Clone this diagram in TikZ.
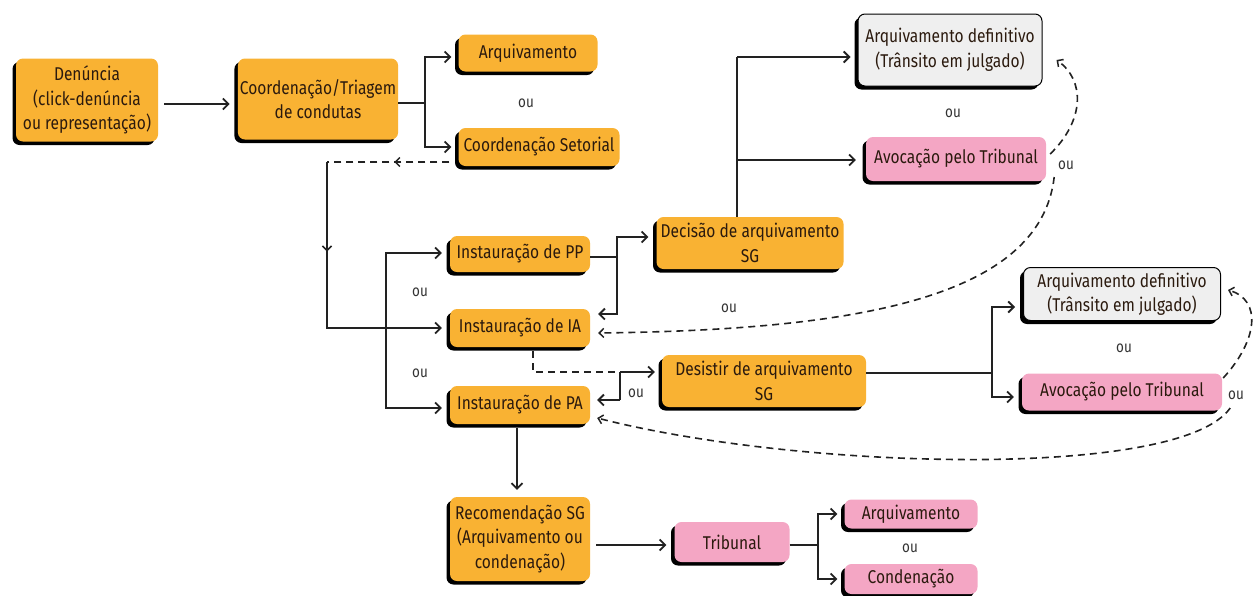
\documentclass[tikz,border=0pt]{standalone}
\usepackage{fontspec}
\setmainfont{Fira Sans}[FakeStretch=0.84]
\usetikzlibrary{arrows.meta,shadows,calc,decorations.markings}
\definecolor{orng}{HTML}{F9B233}
\definecolor{pnk}{HTML}{F4A6C4}
\definecolor{gry}{HTML}{EFEFEF}
\definecolor{txtc}{HTML}{2B1A0E}
\definecolor{lnc}{HTML}{222222}
\begin{document}
\begin{tikzpicture}[x=1pt,y=-1pt,
  box/.style={rounded corners=7pt, align=center, text=txtc, inner sep=2pt,
    font=\fontsize{18.5}{24.5}\selectfont,
    drop shadow={shadow xshift=-3.5pt, shadow yshift=-3.5pt, fill=black, opacity=1}},
  ob/.style={box, fill=orng},
  pb/.style={box, fill=pnk},
  gb/.style={box, fill=gry, draw=black, line width=1pt},
  oulbl/.style={font=\fontsize{16}{18}\selectfont, text=black!80},
  tip/.tip={Straight Barb[length=5.5pt,width=11pt,line width=1.8pt]},
  smalltip/.tip={Straight Barb[length=4.5pt,width=9pt,line width=1.5pt]},
  ln/.style={line width=1.8pt, draw=lnc},
  arr/.style={ln, -tip, shorten >=5pt},
  dsh/.style={line width=1.6pt, draw=lnc, dash pattern=on 7pt off 5pt},
  darr/.style={dsh, -smalltip},
  midarrow/.style={postaction={decorate}, decoration={markings,
    mark=at position #1 with {\arrow{smalltip}}}}
]
\useasboundingbox (0,0) rectangle (1256,595);

% nodes
\node[ob, minimum width=142pt, minimum height=83pt] (den) at (87,100) {Denúncia\\(click-denúncia\\ou representação)};
\node[ob, minimum width=157pt, minimum height=81pt] (tri) at (318,99) {Coordenação/Triagem\\de condutas};
\node[ob, minimum width=139pt, minimum height=37pt] (arq1) at (528,53) {Arquivamento};
\node[ob, minimum width=161pt, minimum height=38pt] (cs) at (539,147) {Coordenação Setorial};
\node[gb, minimum width=184pt, minimum height=72pt] (ad1) at (950,50) {Arquivamento definitivo\\(Trânsito em julgado)};
\node[pb, minimum width=180pt, minimum height=44pt] (av1) at (956,159) {Avocação pelo Tribunal};
\node[ob, minimum width=187pt, minimum height=52pt] (dec) at (750,243) {Decisão de arquivamento\\SG};
\node[ob, minimum width=140pt, minimum height=36pt] (pp) at (520,254) {Instauração de PP};
\node[ob, minimum width=140pt, minimum height=38pt] (ia) at (520,328) {Instauração de IA};
\node[ob, minimum width=140pt, minimum height=38pt] (pa) at (520,405) {Instauração de PA};
\node[ob, minimum width=204pt, minimum height=52pt] (des) at (764,381) {Desistir de arquivamento\\SG};
\node[gb, minimum width=197pt, minimum height=53pt] (ad2) at (1122,294) {Arquivamento definitivo\\(Trânsito em julgado)};
\node[pb, minimum width=200pt, minimum height=37pt] (av2) at (1122,392) {Avocação pelo Tribunal};
\node[ob, minimum width=140pt, minimum height=84pt] (rec) at (520,539) {Recomendação SG\\(Arquivamento ou\\condenação)};
\node[pb, minimum width=115pt, minimum height=40pt] (trib) at (732,542) {Tribunal};
\node[pb, minimum width=133pt, minimum height=29pt] (arq2) at (911,514) {Arquivamento};
\node[pb, minimum width=133pt, minimum height=30pt] (cond) at (911,579) {Condenação};

% "ou" labels
\node[oulbl] (ou1) at (526,103) {ou};
\node[oulbl] (ou2) at (953,113) {ou};
\node[oulbl] (ou3) at (1066,165) {ou};
\node[oulbl] (ou4) at (420,292) {ou};
\node[oulbl] (ou5) at (420,373) {ou};
\node[oulbl] (ou6) at (729,308) {ou};
\node[oulbl] (ou7) at (636,393) {ou};
\node[oulbl] (ou8) at (1124,348) {ou};
\node[oulbl] (ou9) at (1236,395) {ou};
\node[oulbl] (ou10) at (910,548) {ou};

% fork coordinates
\coordinate (f1) at (425,103);
\coordinate (c1) at (327,162);
\coordinate (f2) at (386,328);
\coordinate (f3) at (617,257);
\coordinate (f4) at (737,57);
\coordinate (f5) at (620,372);
\coordinate (f6) at (620,400);
\coordinate (f7) at (992,373);
\coordinate (f8) at (818,545);

% Denuncia -> Triagem
\draw[arr, shorten <=6pt, shorten >=8pt] ($(den.east)+(0,4)$) -- ($(tri.west)+(0,5)$);
% Triagem -> Arquivamento / Coord Setorial
\draw[ln] (tri.east |- f1) -- (f1);
\draw[arr, shorten >=7pt] (f1) |- ($(arq1.west)+(0,4)$);
\draw[arr, shorten >=7pt] (f1) |- (cs.west);
% Coord Setorial -> back (dashed) -> IA
\draw[dsh, midarrow=0.45] ($(cs.west)+(-9,15)$) -- (c1);
\draw[arr, midarrow=0.31, shorten >=8pt] (c1) |- (ia.west);
% fork to PP and PA
\draw[arr, shorten >=8pt] (f2) |- ($(pp.west)+(0,-1)$);
\draw[arr, shorten >=8pt] (f2) |- ($(pa.west)+(0,3)$);
% PP -> Decisao / IA
\draw[ln] (pp.east |- f3) -- (f3);
\draw[arr, shorten >=8pt] (f3) |- ($(dec.west)+(0,-6)$);
\draw[arr, shorten >=8pt] (f3) |- ($(ia.east)+(0,-14)$);
% Decisao -> Arquivamento definitivo / Avocacao
\draw[ln] (dec.north -| f4) -- (f4);
\draw[arr, shorten >=7pt] (f4) -- (f4 -| ad1.west);
\draw[arr, shorten >=10pt] (f4) |- ($(av1.west)+(0,1)$);
% IA -> dashed -> fork -> Desistir / PA
\draw[dsh] ($(ia.south)+(13,4)$) |- (f5);
\draw[arr, shorten >=7pt] (f5) -- (f5 -| des.west);
\draw[ln] (f5) -- (f6);
\draw[arr, shorten >=7pt] (f6) -- (f6 -| pa.east);
% Desistir -> right column
\draw[ln] (des.east |- f7) -- (f7);
\draw[arr, shorten >=8pt] (f7) |- ($(ad2.west)+(0,13)$);
\draw[arr, shorten >=8pt] (f7) |- ($(av2.west)+(0,5)$);
% PA -> Recomendacao -> Tribunal -> outcomes
\draw[arr, shorten <=4pt, shorten >=7pt] ($(pa.south)+(-3,0)$) -- ($(rec.north)+(-3,0)$);
\draw[arr, shorten <=6pt, shorten >=8pt] ($(rec.east)+(0,6)$) -- ($(trib.west)+(0,3)$);
\draw[ln] (trib.east |- f8) -- (f8);
\draw[arr, shorten >=7pt] (f8) |- (arq2.west);
\draw[arr, shorten >=7pt] (f8) |- (cond.west);
% dashed return curves
\draw[darr] ($(av1.east)+(4,-5)$) .. controls (1085,120) and (1085,80) .. ($(ad1.east)+(14,10)$);
\draw[darr] ($(av1.east)+(8,18)$) .. controls (1040,300) and (850,330) .. ($(ia.east)+(8,5)$);
\draw[darr] ($(av2.east)+(1,-14)$) .. controls (1258,340) and (1262,300) .. ($(ad2.east)+(7,-4)$);
\draw[darr] ($(av2.east)+(8,16)$) .. controls (1180,480) and (800,470) .. ($(pa.east)+(7,13)$);
\end{tikzpicture}
\end{document}
